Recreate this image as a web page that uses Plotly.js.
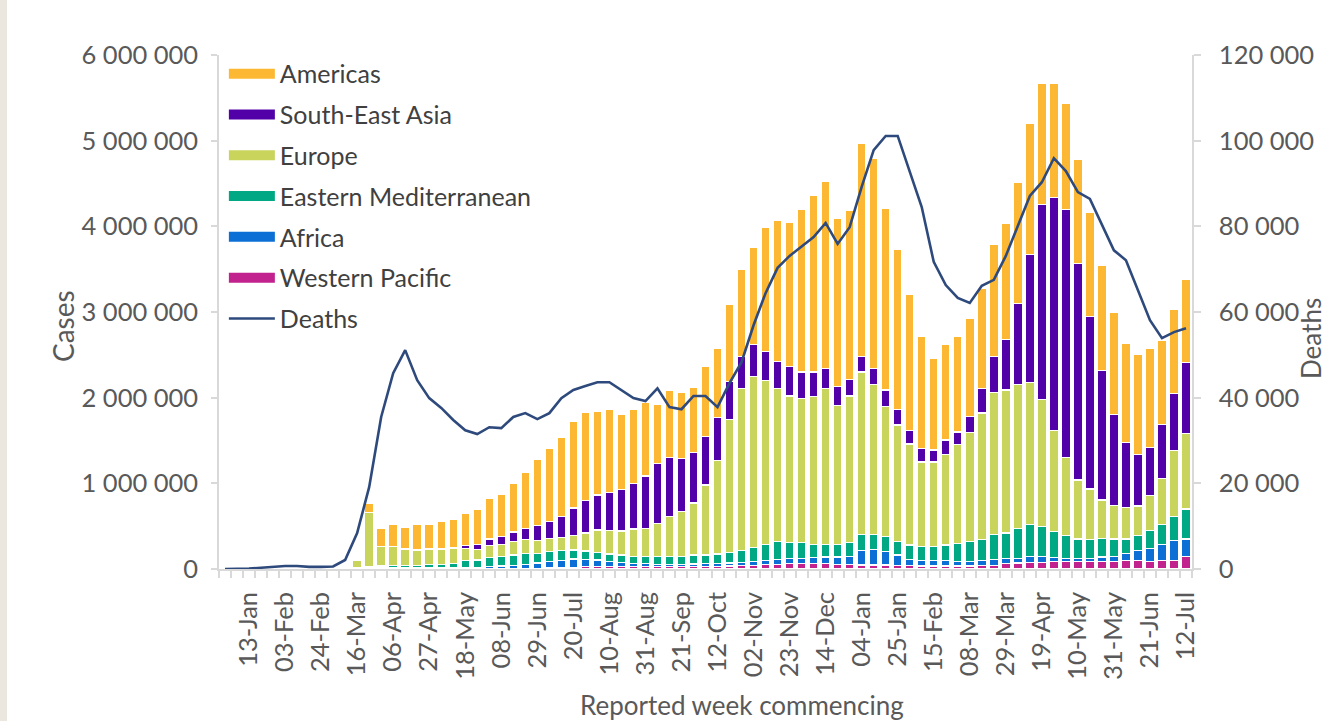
<!DOCTYPE html>
<html>
<head>
<meta charset="utf-8">
<script src="https://cdn.plot.ly/plotly-3.0.1.min.js"></script>
<style>
  html, body { margin: 0; padding: 0; background: #ebe7df; width: 1327px; height: 721px; overflow: hidden; }
  #chart { position: absolute; left: 7px; top: 0; width: 1320px; height: 721px; background: #ffffff; }
</style>
</head>
<body>
<div id="chart"></div>
<script>
const weeks = ['2019-12-30','2020-01-06','2020-01-13','2020-01-20','2020-01-27','2020-02-03','2020-02-10','2020-02-17','2020-02-24','2020-03-02',
'2020-03-09','2020-03-16','2020-03-23','2020-03-30','2020-04-06','2020-04-13','2020-04-20','2020-04-27','2020-05-04','2020-05-11',
'2020-05-18','2020-05-25','2020-06-01','2020-06-08','2020-06-15','2020-06-22','2020-06-29','2020-07-06','2020-07-13','2020-07-20',
'2020-07-27','2020-08-03','2020-08-10','2020-08-17','2020-08-24','2020-08-31','2020-09-07','2020-09-14','2020-09-21','2020-09-28',
'2020-10-05','2020-10-12','2020-10-19','2020-10-26','2020-11-02','2020-11-09','2020-11-16','2020-11-23','2020-11-30','2020-12-07',
'2020-12-14','2020-12-21','2020-12-28','2021-01-04','2021-01-11','2021-01-18','2021-01-25','2021-02-01','2021-02-08','2021-02-15',
'2021-02-22','2021-03-01','2021-03-08','2021-03-15','2021-03-22','2021-03-29','2021-04-05','2021-04-12','2021-04-19','2021-04-26',
'2021-05-03','2021-05-10','2021-05-17','2021-05-24','2021-05-31','2021-06-07','2021-06-14','2021-06-21','2021-06-28','2021-07-05',
'2021-07-12'];

const tickDates = ['2020-01-13','2020-02-03','2020-02-24','2020-03-16','2020-04-06','2020-04-27','2020-05-18','2020-06-08','2020-06-29',
'2020-07-20','2020-08-10','2020-08-31','2020-09-21','2020-10-12','2020-11-02','2020-11-23','2020-12-14','2021-01-04','2021-01-25',
'2021-02-15','2021-03-08','2021-03-29','2021-04-19','2021-05-10','2021-05-31','2021-06-21','2021-07-12'];
const tickLabels = ['13-Jan','03-Feb','24-Feb','16-Mar','06-Apr','27-Apr','18-May','08-Jun','29-Jun','20-Jul','10-Aug','31-Aug',
'21-Sep','12-Oct','02-Nov','23-Nov','14-Dec','04-Jan','25-Jan','15-Feb','08-Mar','29-Mar','19-Apr','10-May','31-May','21-Jun','12-Jul'];

const westernPacific = [0,0,1000,3000,12000,20000,20000,12000,4000,6000,
8000,7000,12000,12000,10000,10000,8000,6000,5000,5000,
5000,5000,5000,5000,8000,8000,10000,13000,17000,22000,
25000,30000,30000,28000,26000,25000,25000,25000,25000,28000,
30000,33000,35000,40000,45000,50000,55000,60000,60000,60000,
60000,55000,50000,47000,47000,47000,45000,40000,35000,35000,
35000,35000,35000,40000,45000,60000,70000,80000,80000,85000,
85000,85000,85000,85000,85000,95000,95000,85000,95000,100000,
150000];

const africa = [0,0,0,0,0,0,0,0,0,0,
1000,1000,2000,3000,5000,5000,6000,7000,8000,10000,
15000,15000,25000,30000,35000,45000,60000,75000,85000,95000,
90000,75000,60000,50000,40000,35000,30000,30000,30000,30000,
30000,32000,35000,40000,45000,50000,55000,60000,65000,70000,
80000,85000,95000,173000,183000,153000,118000,73000,65000,65000,
65000,55000,55000,60000,65000,60000,55000,70000,70000,45000,
40000,40000,40000,55000,65000,90000,120000,150000,195000,235000,
200000];

const easternMed = [0,0,0,0,0,0,0,0,0,2000,
5000,8000,15000,20000,25000,25000,30000,35000,40000,50000,
80000,85000,100000,110000,120000,125000,110000,117000,113000,105000,
95000,90000,85000,85000,78000,85000,90000,90000,95000,105000,
103000,110000,120000,135000,165000,190000,210000,190000,185000,160000,
150000,150000,165000,185000,175000,180000,157000,167000,160000,160000,
180000,210000,230000,245000,290000,300000,350000,365000,350000,310000,
265000,225000,215000,215000,200000,165000,175000,215000,225000,275000,
350000];

const europe = [0,0,0,0,0,0,0,0,2000,10000,
15000,90000,630000,225000,220000,190000,176000,180000,180000,170000,
135000,125000,140000,145000,155000,170000,155000,150000,150000,170000,
210000,260000,272000,280000,323000,330000,385000,465000,520000,607000,
817000,1095000,1555000,1895000,1990000,1915000,1790000,1710000,1680000,1720000,
1820000,1620000,1710000,1895000,1745000,1520000,1360000,1180000,990000,990000,
1060000,1155000,1270000,1475000,1660000,1670000,1675000,1665000,1475000,1180000,
910000,690000,595000,450000,395000,365000,345000,405000,540000,770000,
880000];

const southEastAsia = [0,0,0,0,0,0,0,0,0,0,
0,0,1000,2000,3000,4000,5000,6000,8000,12000,
40000,60000,80000,90000,115000,125000,175000,200000,250000,320000,
380000,410000,445000,486000,530000,610000,700000,690000,620000,590000,
570000,500000,440000,375000,375000,330000,310000,340000,310000,290000,
230000,220000,190000,185000,190000,190000,185000,160000,160000,140000,
165000,145000,190000,290000,420000,590000,950000,1490000,2280000,2720000,
2895000,2530000,2015000,1515000,1055000,765000,605000,565000,635000,670000,
830000];

const americas = [0,0,0,0,0,0,0,0,0,0,
3000,5000,100000,210000,257000,256000,295000,286000,310000,335000,
370000,410000,470000,495000,565000,650000,770000,855000,920000,1010000,
1030000,975000,975000,870000,865000,865000,695000,780000,775000,760000,
810000,800000,905000,1015000,1130000,1455000,1645000,1685000,1900000,2065000,
2180000,1960000,1980000,2485000,2450000,2125000,1865000,1580000,1300000,1070000,
1120000,1110000,1145000,1165000,1310000,1350000,1415000,1535000,1415000,1330000,
1240000,1210000,1210000,1220000,1200000,1150000,1160000,1160000,980000,980000,
970000];

const deaths = [0,0,100,300,500,700,700,500,500,600,
2100,8400,19100,35500,45700,51100,44100,39900,37600,34800,
32400,31500,33100,32900,35500,36400,35000,36400,39900,41800,
42700,43600,43600,41800,39900,39200,42200,37800,37300,40400,
40400,37800,43400,48300,56900,64400,70300,73100,75400,77500,
80800,75900,79800,89200,97800,101100,101100,92700,84500,71700,
66300,63300,62100,66100,67500,73100,80300,87100,90300,95900,
92900,88000,86400,80500,74400,72100,65100,58100,53900,55300,
56200];

const regions = [
  {name: 'Western Pacific', y: westernPacific, color: '#C2228E', rank: 6},
  {name: 'Africa', y: africa, color: '#0B6FD6', rank: 5},
  {name: 'Eastern Mediterranean', y: easternMed, color: '#00A984', rank: 4},
  {name: 'Europe', y: europe, color: '#C9D45C', rank: 3},
  {name: 'South-East Asia', y: southEastAsia, color: '#5200A8', rank: 2},
  {name: 'Americas', y: americas, color: '#FDB833', rank: 1}
];

const FONT = 'Lato, "Open Sans", sans-serif';
const GREY = '#595959';

const traces = [];
regions.forEach(r => {
  traces.push({
    type: 'bar', name: r.name, x: weeks, y: r.y, yaxis: 'y',
    marker: {color: r.color, line: {color: '#ffffff', width: 1.2}},
    showlegend: false, legendgroup: r.name, hoverinfo: 'x+y+name'
  });
  // legend entry drawn as a wide swatch, like the original chart
  traces.push({
    type: 'scatter', mode: 'lines', name: r.name, x: [null], y: [null], yaxis: 'y',
    line: {color: r.color, width: 14}, legendrank: r.rank, legendgroup: r.name,
    hoverinfo: 'skip'
  });
});
traces.push({
  type: 'scatter', mode: 'lines', name: 'Deaths', x: weeks, y: deaths, yaxis: 'y2',
  line: {color: '#2E4A7C', width: 2.6}, legendrank: 7, legendgroup: 'Deaths'
});

const layout = {
  width: 1320, height: 721,
  margin: {l: 212, r: 135, t: 55, b: 152},
  paper_bgcolor: '#ffffff', plot_bgcolor: '#ffffff',
  barmode: 'stack', bargap: 0.28,
  separators: '. ',
  font: {family: FONT, color: GREY, size: 25},
  showlegend: true,
  legend: {
    x: 0.005, y: 1.008, xanchor: 'left', yanchor: 'top',
    bgcolor: 'rgba(0,0,0,0)', borderwidth: 0,
    font: {family: FONT, size: 25, color: '#404040'},
    traceorder: 'grouped', tracegroupgap: 5.3, itemwidth: 46
  },
  xaxis: {
    type: 'date',
    range: ['2019-12-26 12:00', '2021-07-15 12:00'],
    tickvals: tickDates, ticktext: tickLabels,
    tickangle: -90, tickfont: {family: FONT, size: 25.5, color: GREY},
    ticks: '', ticklabelstandoff: 11,
    showline: true, linecolor: '#d9d9d9', linewidth: 1.5,
    showgrid: false, zeroline: false,
    minor: {ticks: 'outside', ticklen: 7, tickcolor: '#d9d9d9', tickwidth: 1.5,
            dtick: 604800000, tick0: '2019-12-26 12:00', showgrid: false}
  },
  yaxis: {
    range: [0, 6000000], tickvals: [0,1000000,2000000,3000000,4000000,5000000,6000000],
    tickformat: ',d', tickfont: {family: FONT, size: 25.5, color: GREY},
    showline: true, linecolor: '#d9d9d9', linewidth: 1.5,
    ticks: 'outside', ticklen: 6, tickcolor: '#d9d9d9', tickwidth: 1.5,
    ticklabelstandoff: 8,
    showgrid: false, zeroline: false
  },
  yaxis2: {
    overlaying: 'y', side: 'right', anchor: 'x',
    range: [0, 120000], tickvals: [0,20000,40000,60000,80000,100000,120000],
    tickformat: ',d', tickfont: {family: FONT, size: 25.5, color: GREY},
    showline: true, linecolor: '#d9d9d9', linewidth: 1.5,
    ticks: 'outside', ticklen: 7, tickcolor: '#d9d9d9', tickwidth: 1.5,
    ticklabelstandoff: 13,
    showgrid: false, zeroline: false
  },
  annotations: [
    {text: 'Cases', xref: 'paper', yref: 'paper', x: -0.1603, y: 0.4728, textangle: -90,
     showarrow: false, font: {family: FONT, size: 28, color: GREY}, xanchor: 'center', yanchor: 'middle'},
    {text: 'Deaths', xref: 'paper', yref: 'paper', x: 1.1223, y: 0.4494, textangle: -90,
     showarrow: false, font: {family: FONT, size: 26, color: GREY}, xanchor: 'center', yanchor: 'middle'},
    {text: 'Reported week commencing', xref: 'paper', yref: 'paper', x: 0.5375, y: -0.2646,
     showarrow: false, font: {family: FONT, size: 26, color: GREY}, xanchor: 'center', yanchor: 'middle'}
  ]
};

Plotly.newPlot('chart', traces, layout, {displayModeBar: false, responsive: false});
</script>
</body>
</html>
